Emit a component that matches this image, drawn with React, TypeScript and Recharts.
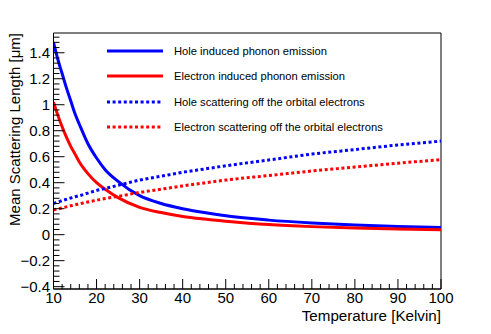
import { Line, LineChart, ReferenceArea, XAxis, YAxis } from "recharts"

// temperature grid [Kelvin]
const temps = [10, 11, 12, 13, 14, 15, 16, 18, 20, 22, 25, 30, 35, 40, 45, 50, 60, 70, 80, 90, 100]

// mean scattering length [um]
const holePhonon = [1.48, 1.35, 1.24, 1.13, 1.03, 0.93, 0.85, 0.7, 0.59, 0.5, 0.41, 0.3, 0.24, 0.2, 0.17, 0.145, 0.112, 0.09, 0.074, 0.063, 0.055]
const electronPhonon = [1.02, 0.92, 0.83, 0.75, 0.68, 0.62, 0.56, 0.47, 0.4, 0.35, 0.285, 0.21, 0.17, 0.14, 0.12, 0.104, 0.078, 0.062, 0.051, 0.043, 0.037]
const holeOrbital = [0.24, 0.25, 0.262, 0.272, 0.282, 0.292, 0.3, 0.32, 0.34, 0.355, 0.38, 0.42, 0.45, 0.48, 0.505, 0.53, 0.575, 0.62, 0.655, 0.69, 0.72]
const electronOrbital = [0.19, 0.198, 0.206, 0.214, 0.222, 0.23, 0.237, 0.252, 0.265, 0.278, 0.295, 0.325, 0.35, 0.375, 0.398, 0.42, 0.455, 0.49, 0.52, 0.55, 0.577]

const seriesNames = [
  "Hole induced phonon emission",
  "Electron induced phonon emission",
  "Hole scattering off the orbital electrons",
  "Electron scattering off the orbital electrons",
]

const xMajor = [10, 20, 30, 40, 50, 60, 70, 80, 90, 100]
const yMajor = [-0.4, -0.2, 0, 0.2, 0.4, 0.6, 0.8, 1, 1.2, 1.4]

const data = temps.map((t, i) => ({
  t,
  hp: holePhonon[i],
  ep: electronPhonon[i],
  ho: holeOrbital[i],
  eo: electronOrbital[i],
}))

const FONT = "'Liberation Sans', Arial, Helvetica, sans-serif"
const AXIS_FS = 15
const X_DOMAIN: [number, number] = [10, 100]
const Y_DOMAIN: [number, number] = [-0.418, 1.552]
const TICK_GAP = 3.5
const DOTS = "3 2.6"

// minor ticks every 2 K / 0.04 um
const xTicks: number[] = []
for (let v = 10; v <= 100; v += 2) xTicks.push(v)
const yTicks: number[] = []
for (let i = -10; i <= 38; i++) yTicks.push(Math.round(i * 4) / 100)

const isMajor = (v: number, list: number[]) => list.some((m) => Math.abs(m - v) < 1e-6)
const fmtY = (v: number) => (v < 0 ? "\u2212" + String(Math.abs(v)) : String(v))

const XTick = (props: any) => {
  const { x, y, payload } = props
  const major = isMajor(payload.value, xMajor)
  const ay = y - TICK_GAP
  return (
    <g>
      <line x1={x} x2={x} y1={ay} y2={ay - (major ? 10 : 5)} stroke="#000" />
      {major && (
        <text x={x} y={y} dy="0.71em" textAnchor="middle" fontSize={AXIS_FS} fontFamily={FONT} fill="#000">
          {payload.value}
        </text>
      )}
    </g>
  )
}

const YTick = (props: any) => {
  const { x, y, payload } = props
  const major = isMajor(payload.value, yMajor)
  const ax = x + TICK_GAP
  return (
    <g>
      <line x1={ax} x2={ax + (major ? 11 : 6)} y1={y} y2={y} stroke="#000" />
      {major && (
        <text x={x} y={y} dy="0.36em" textAnchor="end" fontSize={AXIS_FS} fontFamily={FONT} fill="#000">
          {fmtY(payload.value)}
        </text>
      )}
    </g>
  )
}

const legendItems = [
  { name: seriesNames[0], color: "#0000ff", dash: undefined },
  { name: seriesNames[1], color: "#ff0000", dash: undefined },
  { name: seriesNames[2], color: "#0000ff", dash: DOTS },
  { name: seriesNames[3], color: "#ff0000", dash: DOTS },
]

const LegendBox = () => (
  <div style={{ position: "absolute", left: 107, top: 38.5, fontFamily: FONT, fontSize: 11.2, color: "#000" }}>
    {legendItems.map((it) => (
      <div key={it.name} style={{ display: "flex", alignItems: "center", height: 25.3 }}>
        <svg width={56} height={6} style={{ display: "block" }}>
          <line x1={0} x2={56} y1={3} y2={3} stroke={it.color} strokeWidth={3} strokeDasharray={it.dash} />
        </svg>
        <span style={{ marginLeft: 11, whiteSpace: "nowrap" }}>{it.name}</span>
      </div>
    ))}
  </div>
)

export default function App() {
  return (
    <div style={{ position: "absolute", left: 0, top: 0, width: 491, height: 334, background: "#fff" }}>
      <LineChart width={491} height={334} data={data} margin={{ top: 33, right: 50, bottom: 0, left: 0 }}>
        <XAxis
          dataKey="t"
          type="number"
          domain={X_DOMAIN}
          ticks={xTicks}
          interval={0}
          tickSize={0}
          tickMargin={TICK_GAP}
          tick={<XTick />}
          height={45}
          axisLine={{ stroke: "#000" }}
          allowDataOverflow
          label={() => (
            <text x={441} y={320.5} textAnchor="end" fontSize={15.2} fontFamily={FONT} fill="#000">
              Temperature [Kelvin]
            </text>
          )}
        />
        <YAxis
          type="number"
          domain={Y_DOMAIN}
          ticks={yTicks}
          interval={0}
          tickSize={0}
          tickMargin={TICK_GAP}
          tick={<YTick />}
          width={53.5}
          axisLine={{ stroke: "#000" }}
          allowDataOverflow
          label={() => (
            <text
              x={20}
              y={33}
              transform="rotate(-90, 20, 33)"
              textAnchor="end"
              fontSize={AXIS_FS}
              fontFamily={FONT}
              fill="#000"
            >
              Mean Scattering Length [μm]
            </text>
          )}
        />
        <ReferenceArea x1={10} x2={100} y1={Y_DOMAIN[0]} y2={Y_DOMAIN[1]} fill="none" stroke="#000" strokeWidth={1} />
        <Line type="monotone" dataKey="hp" name={seriesNames[0]} stroke="#0000ff" strokeWidth={3} dot={false} isAnimationActive={false} />
        <Line type="monotone" dataKey="ep" name={seriesNames[1]} stroke="#ff0000" strokeWidth={3} dot={false} isAnimationActive={false} />
        <Line type="monotone" dataKey="ho" name={seriesNames[2]} stroke="#0000ff" strokeWidth={3} strokeDasharray={DOTS} dot={false} isAnimationActive={false} />
        <Line type="monotone" dataKey="eo" name={seriesNames[3]} stroke="#ff0000" strokeWidth={3} strokeDasharray={DOTS} dot={false} isAnimationActive={false} />
      </LineChart>
      <LegendBox />
    </div>
  )
}
